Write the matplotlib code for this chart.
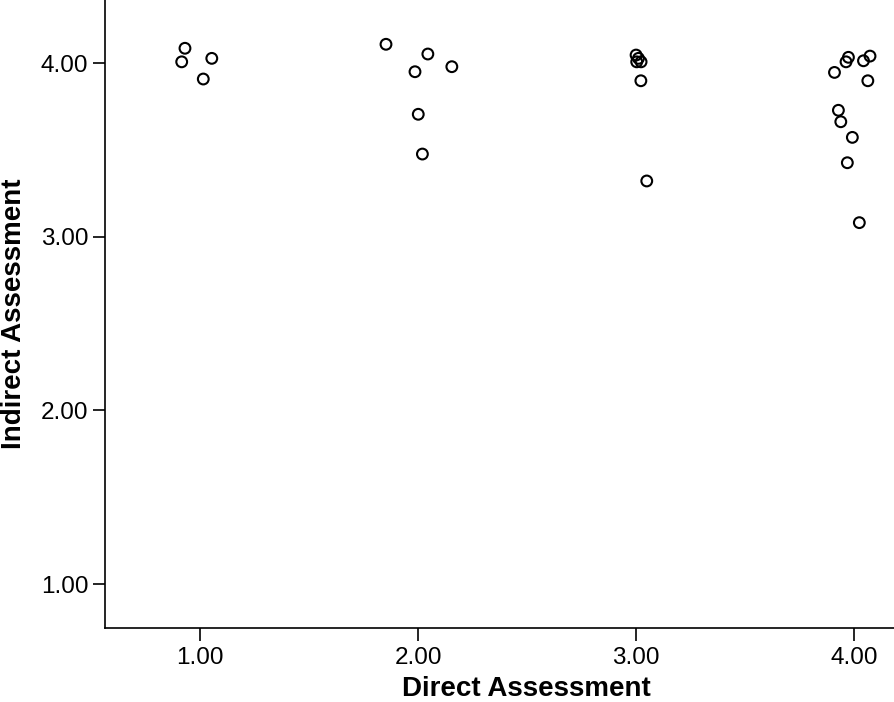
import matplotlib.pyplot as plt

plt.rcParams['font.family'] = ['Liberation Sans', 'DejaVu Sans']

# Direct assessment (jittered) vs indirect assessment
direct = [0.931, 0.916, 1.054, 1.015,
          1.853, 2.045, 2.155, 1.986, 2.001, 2.020,
          3.000, 3.011, 3.003, 3.023, 3.022, 3.049,
          3.974, 3.963, 4.043, 4.073, 3.910, 4.063, 3.928, 3.939, 3.992, 3.969, 4.024]
indirect = [4.085, 4.007, 4.027, 3.908,
            4.108, 4.052, 3.979, 3.950, 3.705, 3.476,
            4.046, 4.027, 4.007, 4.007, 3.898, 3.321,
            4.033, 4.007, 4.013, 4.040, 3.946, 3.898, 3.728, 3.662, 3.572, 3.426, 3.081]
ticks = [1.0, 2.0, 3.0, 4.0]
tick_labels = ['1.00', '2.00', '3.00', '4.00']

fig = plt.figure(figsize=(8.94, 7.02), dpi=100)
ax = fig.add_axes([0.1174, 0.1054, 0.8826, 0.8946])

ax.scatter(direct, indirect, s=60, facecolors='none', edgecolors='black', linewidths=1.5)

ax.set_xlim(0.564, 4.183)
ax.set_ylim(0.747, 4.363)
ax.set_xticks(ticks)
ax.set_xticklabels(tick_labels)
ax.set_yticks(ticks)
ax.set_yticklabels(tick_labels)

ax.spines['top'].set_visible(False)
ax.spines['right'].set_visible(False)
for sp in ['left', 'bottom']:
    ax.spines[sp].set_linewidth(1.2)
ax.tick_params(axis='x', length=9, width=1.2, labelsize=17.5, pad=5)
ax.tick_params(axis='y', length=9, width=1.2, labelsize=17.5, pad=3)

ax.set_xlabel('Direct Assessment', fontsize=20, fontweight='bold', labelpad=5)
ax.xaxis.label.set_x(0.534)  # label sits right of centre in the original
ax.set_ylabel('Indirect Assessment', fontsize=20, fontweight='bold', labelpad=10)

fig.savefig('out.png', dpi=100)
